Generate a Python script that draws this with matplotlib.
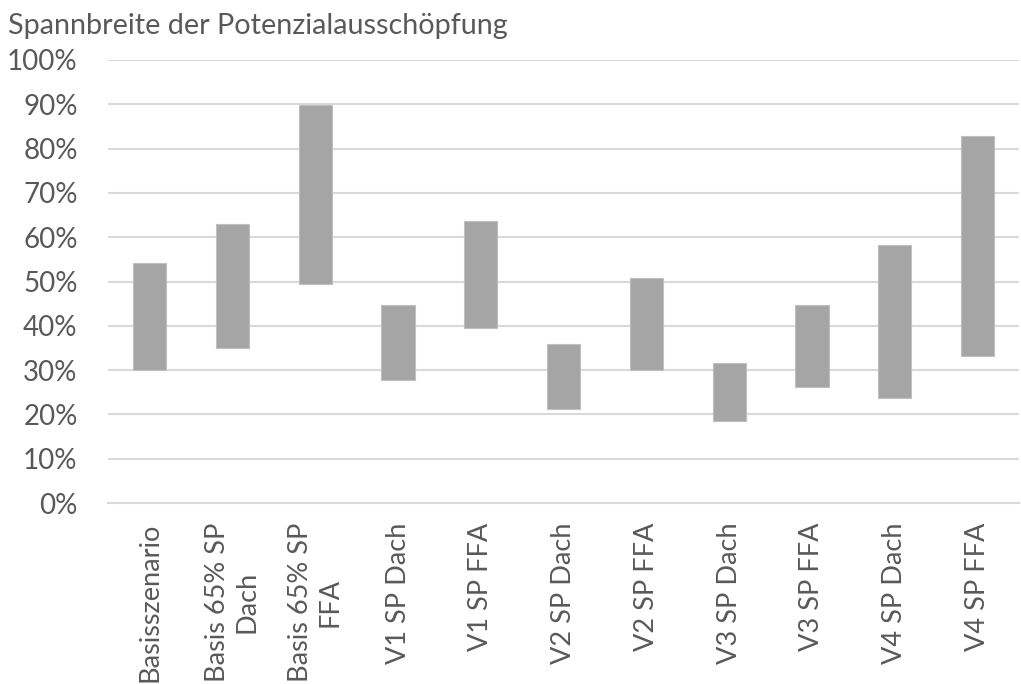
import numpy as np
import matplotlib
matplotlib.use('Agg')
import matplotlib.pyplot as plt

plt.rcParams['font.family'] = ['Lato', 'DejaVu Sans']

# Spannbreite je Szenario (unterer / oberer Wert der Potenzialausschöpfung)
szenarien = ['Basisszenario', 'Basis 65% SP\nDach', 'Basis 65% SP\nFFA',
             'V1 SP Dach', 'V1 SP FFA', 'V2 SP Dach', 'V2 SP FFA',
             'V3 SP Dach', 'V3 SP FFA', 'V4 SP Dach', 'V4 SP FFA']
untere_grenze = [0.300, 0.350, 0.495, 0.277, 0.395, 0.212, 0.300, 0.185, 0.262, 0.237, 0.332]
obere_grenze = [0.541, 0.630, 0.898, 0.447, 0.636, 0.359, 0.508, 0.316, 0.447, 0.582, 0.828]

text_col = '#595959'
grid_col = '#d9d9d9'
bar_col = '#a5a5a5'

fig = plt.figure(figsize=(10.21, 6.84), dpi=100)
ax = fig.add_axes([0.106, 0.2646, 0.892, 0.6477])

x = np.arange(len(szenarien))
hoehe = np.array(obere_grenze) - np.array(untere_grenze)
ax.bar(x, hoehe, bottom=untere_grenze, width=0.4, color=bar_col,
       edgecolor='#bfbfbf', linewidth=0.8, zorder=3)

ax.set_ylim(0, 1.0)
ax.set_xlim(-0.5, len(szenarien) - 0.5)
ax.set_yticks(np.arange(0, 1.01, 0.1))
ax.set_yticklabels([f'{int(round(v * 100))}%' for v in np.arange(0, 1.01, 0.1)])
ax.yaxis.grid(True, color=grid_col, linewidth=1.5, zorder=0)
ax.set_axisbelow(True)

ax.set_xticks(x)
ax.set_xticklabels(szenarien, rotation=90, va='top', ha='center',
                   multialignment='center')

for s in ['top', 'right', 'left']:
    ax.spines[s].set_visible(False)
ax.spines['bottom'].set_color(grid_col)
ax.spines['bottom'].set_linewidth(1.5)

ax.tick_params(axis='both', length=0, colors=text_col)
ax.tick_params(axis='x', pad=14, labelsize=19.5)
ax.tick_params(axis='y', pad=22, labelsize=20)

fig.text(0.008, 0.962, 'Spannbreite der Potenzialausschöpfung', color=text_col,
         fontsize=20.7, ha='left', va='center')

fig.savefig('out.png', dpi=100)
